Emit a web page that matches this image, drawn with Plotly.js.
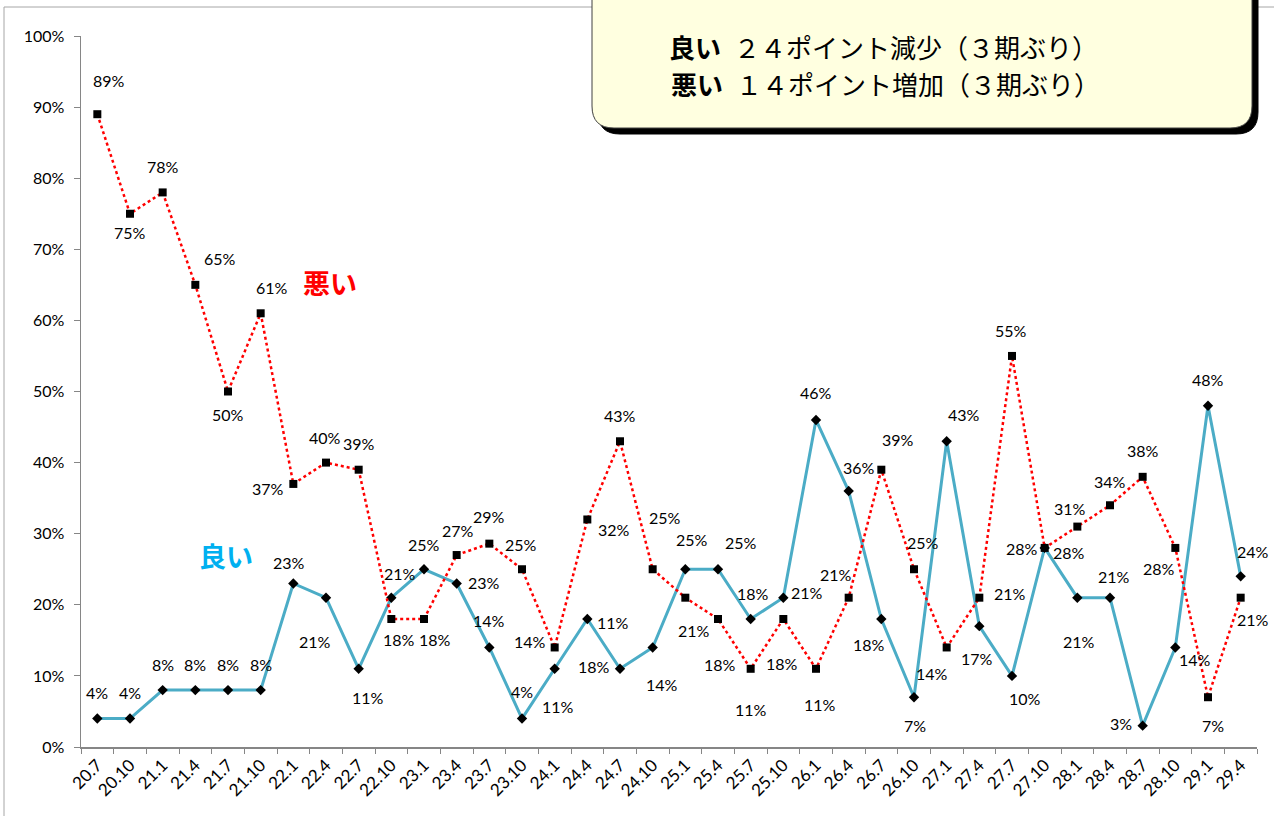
<!DOCTYPE html>
<html>
<head>
<meta charset="utf-8">
<script src="https://cdn.plot.ly/plotly-3.0.1.min.js"></script>
<style>html,body{margin:0;padding:0;background:#fff;}#chart{width:1274px;height:816px;}</style>
</head>
<body>
<div id="chart"></div>
<script>
// ---- data ----
const categories = ["20.7","20.10","21.1","21.4","21.7","21.10","22.1","22.4","22.7","22.10",
  "23.1","23.4","23.7","23.10","24.1","24.4","24.7","24.10","25.1","25.4","25.7","25.10",
  "26.1","26.4","26.7","26.10","27.1","27.4","27.7","27.10","28.1","28.4","28.7","28.10","29.1","29.4"];
const good = [4,4,8,8,8,8,23,21,11,21,25,23,14,4,11,18,11,14,25,25,18,21,46,36,18,7,43,17,10,28,21,21,3,14,48,24];
const bad  = [89,75,78,65,50,61,37,40,39,18,18,27,28.6,25,14,32,43,25,21,18,11,18,11,21,39,25,14,21,55,28,31,34,38,28,7,21];
const goodName = "良い";
const badName = "悪い";
const boxLine1 = "２４ポイント減少（３期ぶり）";
const boxLine2 = "１４ポイント増加（３期ぶり）";

// ---- label offsets (pixels, dx right, dy down) ----
const goodDx = [0,0,0,0,0,0,-4,-11,9,9,0,27,0,0,3,7,-7,9,7,23,2,24,0,10,-12,1,17,-2,13,24,2,4,-22,20,0,12];
const goodDy = [-26,-26,-26,-26,-26,-26,-21,44,29,-24,-25,-1,-27,-27,38,47,-46,37,-30,-27,-26,-5,-27,-24,25,28,-27,32,23,5,44,-21,-2,12,-26,-25];
const badDx = [12,0,0,25,0,11,-25,-1,0,8,11,1,0,-1,-25,27,0,12,9,2,0,-1,4,-13,17,9,-15,31,-1,-23,-7,0,0,-16,5,12];
const badDy = [-34,19,-26,-26,23,-26,5,-25,-26,20,20,-25,-27,-25,-6,10,-26,-52,33,45,41,44,36,-23,-30,-27,26,-4,-25,1,-18,-24,-26,21,28,22];

// ---- geometry helpers (pixel -> paper) ----
const W = 1274, H = 816;
const M = {l: 81, r: W - 1257, t: 36, b: H - 747};
const pw = W - M.l - M.r, ph = H - M.t - M.b;
const px = x => (x - M.l) / pw;
const py = y => 1 - (y - M.t) / ph;

function roundRect(x0, y0, x1, y1, r) {
  const p = [];
  p.push(`M${px(x0 + r)},${py(y0)}`);
  p.push(`L${px(x1 - r)},${py(y0)}`);
  p.push(`Q${px(x1)},${py(y0)} ${px(x1)},${py(y0 + r)}`);
  p.push(`L${px(x1)},${py(y1 - r)}`);
  p.push(`Q${px(x1)},${py(y1)} ${px(x1 - r)},${py(y1)}`);
  p.push(`L${px(x0 + r)},${py(y1)}`);
  p.push(`Q${px(x0)},${py(y1)} ${px(x0)},${py(y1 - r)}`);
  p.push(`L${px(x0)},${py(y0 + r)}`);
  p.push(`Q${px(x0)},${py(y0)} ${px(x0 + r)},${py(y0)}`);
  p.push('Z');
  return p.join(' ');
}

const labelFont = {family: "Lato, 'Noto Sans', sans-serif", size: 16, color: "#000"};
const annotations = [];
categories.forEach((c, i) => {
  annotations.push({x: i, y: good[i], xref: 'x', yref: 'y', text: Math.round(good[i]) + '%',
    xanchor: 'center', yanchor: 'middle',
    showarrow: false, xshift: goodDx[i], yshift: -goodDy[i], font: labelFont});
  annotations.push({x: i, y: bad[i], xref: 'x', yref: 'y', text: Math.round(bad[i]) + '%',
    xanchor: 'center', yanchor: 'middle',
    showarrow: false, xshift: badDx[i], yshift: -badDy[i], font: labelFont});
});

const jpFont = "'Noto Sans CJK JP', sans-serif";
annotations.push({xref: 'paper', yref: 'paper', x: px(330), y: py(282), xanchor: 'center', yanchor: 'middle',
  text: '<b>' + badName + '</b>', showarrow: false, font: {family: jpFont, size: 27, color: '#ff0000'}});
annotations.push({xref: 'paper', yref: 'paper', x: px(226), y: py(555), xanchor: 'center', yanchor: 'middle',
  text: '<b>' + goodName + '</b>', showarrow: false, font: {family: jpFont, size: 27, color: '#00b0f0'}});
annotations.push({xref: 'paper', yref: 'paper', x: px(667), y: py(47), xanchor: 'left', yanchor: 'middle',
  text: '<b>' + goodName + '</b>\u2002' + boxLine1,
  showarrow: false, font: {family: jpFont, size: 26, color: '#000'}});
annotations.push({xref: 'paper', yref: 'paper', x: px(669), y: py(83), xanchor: 'left', yanchor: 'middle',
  text: '<b>' + badName + '</b>\u2002' + boxLine2,
  showarrow: false, font: {family: jpFont, size: 26, color: '#000'}});

const shapes = [
  {type: 'rect', xref: 'paper', yref: 'paper', x0: px(4), y0: py(7), x1: px(1290), y1: py(830),
   line: {color: '#a6a6a6', width: 1}, fillcolor: 'rgba(0,0,0,0)', layer: 'below'},
  {type: 'path', xref: 'paper', yref: 'paper', path: roundRect(598, -40, 1258, 134, 22),
   fillcolor: '#000', line: {color: '#000', width: 1}, layer: 'above'},
  {type: 'path', xref: 'paper', yref: 'paper', path: roundRect(592, -40, 1252, 128, 22),
   fillcolor: '#ffffe0', line: {color: '#404040', width: 1}, layer: 'above'}
];

const traces = [
  {x: categories, y: good, type: 'scatter', mode: 'lines+markers', name: goodName,
   line: {color: '#4bacc6', width: 3}, marker: {symbol: 'diamond', size: 8, color: '#000'},
   cliponaxis: false, hoverinfo: 'skip'},
  {x: categories, y: bad, type: 'scatter', mode: 'lines+markers', name: badName,
   line: {color: '#ff0000', width: 2.5, dash: 'dot'}, marker: {symbol: 'square', size: 8, color: '#000'},
   cliponaxis: false, hoverinfo: 'skip'}
];

const layout = {
  width: W, height: H,
  margin: M,
  paper_bgcolor: '#fff', plot_bgcolor: '#fff',
  showlegend: false,
  xaxis: {type: 'category', range: [-0.5, categories.length - 0.5], showgrid: false, zeroline: false,
    showline: true, linecolor: '#868686', linewidth: 1.5, ticks: 'outside', ticklen: 5, tickcolor: '#868686',
    tickson: 'boundaries', tickangle: -45, tickfont: {family: "Lato, 'Noto Sans', sans-serif", size: 17, color: '#000'}},
  yaxis: {range: [0, 100], dtick: 10, ticksuffix: '%', showgrid: false, zeroline: false,
    showline: true, linecolor: '#868686', linewidth: 1.5, ticks: 'outside', ticklen: 6, tickcolor: '#868686',
    ticklabelstandoff: 6,
    tickfont: {family: "Lato, 'Noto Sans', sans-serif", size: 16, color: '#000'}},
  annotations: annotations,
  shapes: shapes
};

Plotly.newPlot('chart', traces, layout, {staticPlot: true, displayModeBar: false});
</script>
</body>
</html>
